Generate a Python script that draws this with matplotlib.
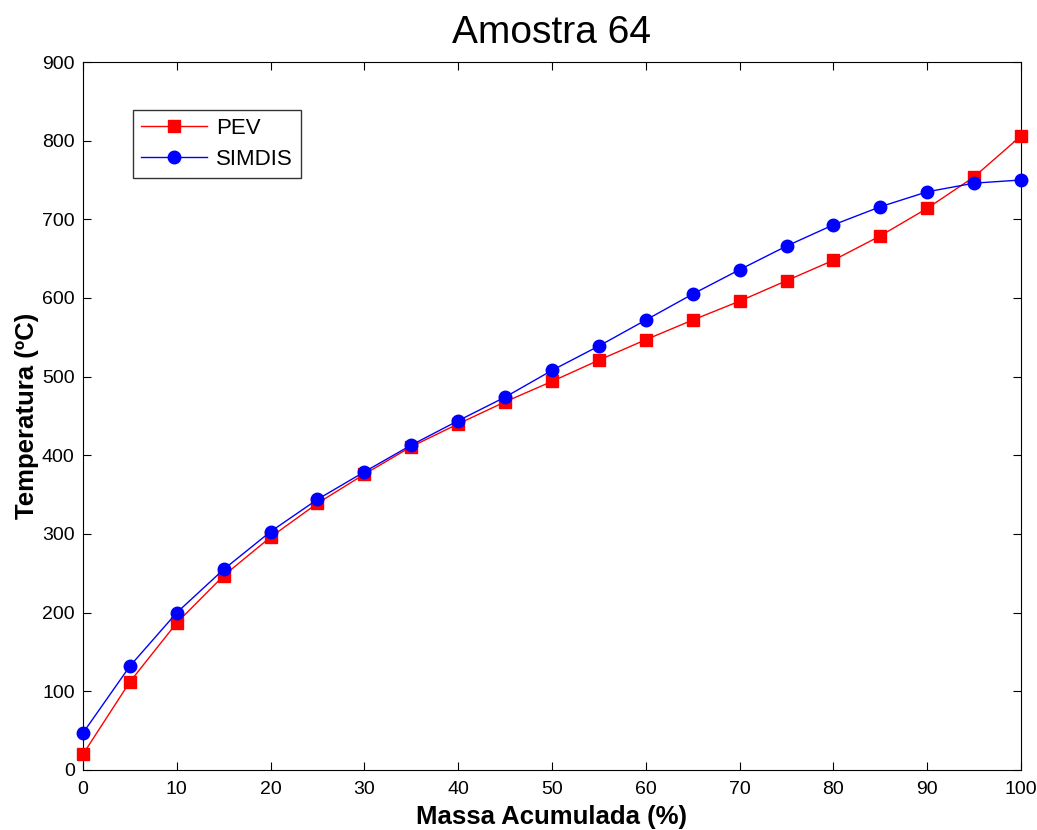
import numpy as np
import matplotlib.pyplot as plt

plt.rcParams['font.family'] = ['Liberation Sans', 'DejaVu Sans']

# mass fraction (%) and temperatures (deg C) for the two methods
massa = [0, 5, 10, 15, 20, 25, 30, 35, 40, 45, 50, 55, 60, 65, 70, 75, 80, 85, 90, 95, 100]
pev = [20, 112, 187, 247, 296, 339, 376, 411, 440, 468, 494, 521, 547, 572, 596, 622, 648, 679, 714, 754, 806]
simdis = [47, 132, 200, 255, 303, 344, 379, 413, 444, 474, 508, 539, 572, 605, 636, 666, 693, 716, 735, 746, 750]

fig = plt.figure(figsize=(10.37, 8.3), dpi=100)
ax = fig.add_axes([0.080, 0.0723, 0.9046, 0.853])

ax.plot(massa, pev, color='red', marker='s', markersize=9, linewidth=1, label='PEV', clip_on=False, zorder=3)
ax.plot(massa, simdis, color='blue', marker='o', markersize=9, linewidth=1, label='SIMDIS', clip_on=False, zorder=3)

ax.set_xlim(0, 100)
ax.set_ylim(0, 900)
ax.set_xticks(np.arange(0, 101, 10))
ax.set_yticks(np.arange(0, 901, 100))
ax.tick_params(direction='in', top=True, right=True, labelsize=14, length=6)
ax.tick_params(axis='x', pad=8)
ax.tick_params(axis='y', pad=6)

ax.set_title('Amostra 64', fontsize=28, pad=14)
ax.set_xlabel('Massa Acumulada (%)', fontsize=18.5, fontweight='bold', labelpad=5)
ax.set_ylabel('Temperatura (ºC)', fontsize=18.5, fontweight='bold', labelpad=2)

leg = ax.legend(loc='upper left', bbox_to_anchor=(0.0533, 0.932), borderaxespad=0,
                fontsize=16, frameon=True, fancybox=False, edgecolor='black',
                borderpad=0.35, handlelength=3.0, handletextpad=0.4, labelspacing=0.45)
leg.get_frame().set_linewidth(1)

fig.savefig('out.png', dpi=100)
